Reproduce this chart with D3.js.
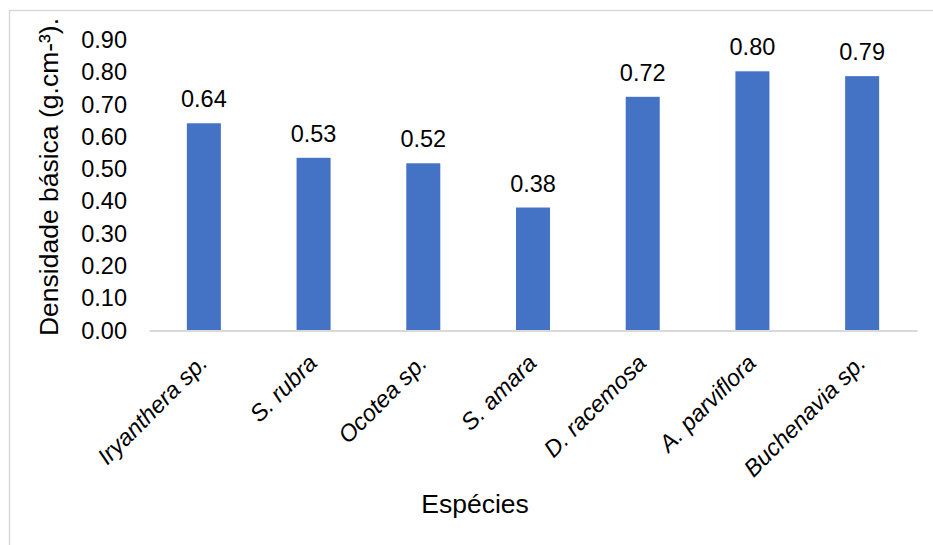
<!DOCTYPE html>
<html>
<head>
<meta charset="utf-8">
<script src="https://cdn.jsdelivr.net/npm/d3@7"></script>
<style>
  html, body { margin: 0; padding: 0; background: #fff; }
  svg { display: block; font-family: "Liberation Sans", Arial, sans-serif; }
</style>
</head>
<body>
<svg id="chart" width="933" height="545"></svg>
<script>
const categories = ["Iryanthera sp.", "S. rubra", "Ocotea sp.", "S. amara", "D. racemosa", "A. parviflora", "Buchenavia sp."];
const values = [0.642, 0.535, 0.518, 0.381, 0.724, 0.803, 0.788];
const valueLabels = ["0.64", "0.53", "0.52", "0.38", "0.72", "0.80", "0.79"];
const yTicks = [0, 0.1, 0.2, 0.3, 0.4, 0.5, 0.6, 0.7, 0.8, 0.9];
const xTitle = "Espécies";
const yTitle = "Densidade básica (g.cm-³).";

const svg = d3.select("#chart");
const W = 933, H = 545;
const m = { left: 149, right: 16, top: 40, bottom: 214.5 };

// outer border
svg.append("rect").attr("x", 9.5).attr("y", 10.5).attr("width", W + 20).attr("height", H + 20)
  .attr("fill", "none").attr("stroke", "#d9d9d9").attr("stroke-width", 1.5);

const x = d3.scaleBand().domain(categories).range([m.left, W - m.right]).padding(0);
const y = d3.scaleLinear().domain([0, 0.9]).range([H - m.bottom, m.top]);
const barW = x.bandwidth() * 0.31;

// bars
svg.append("g").selectAll("rect").data(categories).join("rect")
  .attr("x", (d) => x(d) + x.bandwidth() / 2 - barW / 2)
  .attr("y", (d, i) => y(values[i]))
  .attr("width", barW)
  .attr("height", (d, i) => y(0) - y(values[i]))
  .attr("fill", "#4472C4");

// value labels
svg.append("g").selectAll("text").data(categories).join("text")
  .attr("x", (d) => x(d) + x.bandwidth() / 2)
  .attr("y", (d, i) => y(values[i]) - 16)
  .attr("text-anchor", "middle")
  .attr("font-size", 23.5)
  .attr("fill", "#000")
  .text((d, i) => valueLabels[i]);

// y axis
const yAxis = d3.axisLeft(y).tickValues(yTicks).tickFormat(d3.format(".2f")).tickSize(0).tickPadding(22);
const gy = svg.append("g").attr("transform", `translate(${m.left},0)`).call(yAxis);
gy.select(".domain").remove();
gy.selectAll("text").attr("font-size", 23.5).attr("fill", "#000").attr("font-family", "Liberation Sans, Arial, sans-serif");

// x axis
const xAxis = d3.axisBottom(x).tickSize(0).tickFormat("");
const gx = svg.append("g").attr("transform", `translate(0,${y(0)})`).call(xAxis);
gx.select(".domain").attr("stroke", "#d9d9d9").attr("stroke-width", 2);

// rotated x labels (italic species names)
svg.append("g").selectAll("text").data(categories).join("text")
  .attr("transform", (d) => `translate(${x(d) + x.bandwidth() / 2 + 5},${y(0) + 34}) rotate(-45)`)
  .attr("text-anchor", "end")
  .attr("font-size", 23.5)
  .attr("font-style", "italic")
  .attr("fill", "#000")
  .text((d) => d);

// axis titles
svg.append("text")
  .attr("x", 475).attr("y", 513)
  .attr("text-anchor", "middle")
  .attr("font-size", 26.5)
  .attr("fill", "#000")
  .text(xTitle);

svg.append("text")
  .attr("transform", "translate(58,177) rotate(-90)")
  .attr("text-anchor", "middle")
  .attr("font-size", 26.5)
  .attr("fill", "#000")
  .text(yTitle);
</script>
</body>
</html>
